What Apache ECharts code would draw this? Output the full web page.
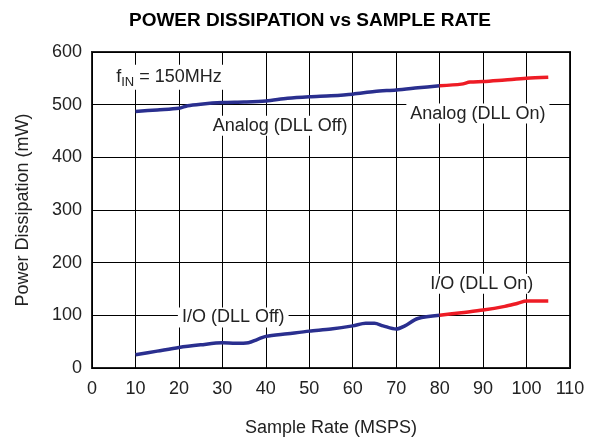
<!DOCTYPE html>
<html><head><meta charset="utf-8">
<script src="https://cdn.jsdelivr.net/npm/echarts@6/dist/echarts.min.js"></script>
<style>html,body{margin:0;padding:0;background:#fff}#c{width:595px;height:439px}</style>
</head><body><div id="c"></div>
<script>
const analogOffX = [10, 15, 20, 22, 25, 30, 35, 40, 45, 50, 55, 60, 65, 70, 75, 80];
const analogOffY = [487, 490, 493, 498, 501, 504, 505, 507, 512, 515, 517, 520, 525, 528, 532, 536];
const analogOnX = [80, 85, 87, 90, 95, 100, 105];
const analogOnY = [536, 539, 543, 544, 547, 550, 552];
const ioOffX = [10, 15, 20, 25, 30, 33, 36, 38, 40, 45, 50, 55, 60, 63, 65, 67, 70, 72, 75, 80];
const ioOffY = [25, 32, 39, 44, 48, 47, 48, 54, 60, 65, 70, 74, 80, 85, 85, 80, 74, 80, 94, 100];
const ioOnX = [80, 85, 90, 95, 98, 100, 105];
const ioOnY = [100, 105, 110, 117, 123, 127, 127];
const xTicks = [0, 10, 20, 30, 40, 50, 60, 70, 80, 90, 100, 110];
const yTicks = [0, 100, 200, 300, 400, 500, 600];

const BLUE = '#2a2f8f', RED = '#ee1c25';
const pairs = (xs, ys) => xs.map((x, i) => [x, ys[i]]);
const FONT = 'Liberation Sans, Arial, sans-serif';
const TXT = '#222';

function lbl(coord, text, rich) {
  return { coord: coord, symbol: 'circle', symbolSize: 1, itemStyle: { color: 'rgba(0,0,0,0)' },
    label: { show: true, position: 'inside', formatter: text, color: TXT, fontSize: 18, fontFamily: FONT,
      backgroundColor: '#fff', padding: [1, 4], rich: rich || {} } };
}
const mp = (data) => ({ silent: true, animation: false, data: data });

const chart = echarts.init(document.getElementById('c'));
chart.setOption({
  animation: false,
  backgroundColor: '#fff',
  title: { text: 'POWER DISSIPATION vs SAMPLE RATE', left: 305, textAlign: 'center', top: 6,
    textStyle: { fontFamily: FONT, fontSize: 19, fontWeight: 'bold', color: '#000' } },
  grid: { left: 92, right: 25, top: 52, bottom: 71, containLabel: false, outerBoundsMode: 'none',
    show: true, borderColor: '#222', borderWidth: 2, backgroundColor: 'transparent' },
  xAxis: { type: 'value', min: 0, max: 110, interval: 10,
    name: 'Sample Rate (MSPS)', nameLocation: 'middle', nameGap: 51,
    nameTextStyle: { fontFamily: FONT, fontSize: 18, color: TXT },
    axisLine: { show: false }, axisTick: { show: false },
    axisLabel: { fontFamily: FONT, fontSize: 18, color: TXT, margin: 12,
      formatter: v => xTicks.includes(v) ? String(v) : '' },
    splitLine: { show: true, lineStyle: { color: '#000', width: 1 } } },
  yAxis: { type: 'value', min: 0, max: 600, interval: 100,
    name: 'Power Dissipation (mW)', nameLocation: 'middle', nameGap: 60, nameRotate: 90,
    nameTextStyle: { fontFamily: FONT, fontSize: 18, color: TXT },
    axisLine: { show: false }, axisTick: { show: false },
    axisLabel: { fontFamily: FONT, fontSize: 18, color: TXT, margin: 10,
      formatter: v => yTicks.includes(v) ? String(v) : '' },
    splitLine: { show: true, lineStyle: { color: '#000', width: 1 } } },
  series: [
    { type: 'line', data: pairs(analogOffX, analogOffY), showSymbol: false, smooth: 0.3, z: 5,
      lineStyle: { color: BLUE, width: 3.5 },
      markPoint: mp([
        lbl([17.7, 552], '{a|f}{s|IN}{a| = 150MHz}', {
          a: { fontSize: 18, fontFamily: FONT, color: TXT },
          s: { fontSize: 13, fontFamily: FONT, color: TXT, padding: [10, 0, 0, 0] } }),
        lbl([43.3, 460], 'Analog (DLL Off)') ]) },
    { type: 'line', data: pairs(analogOnX, analogOnY), showSymbol: false, smooth: 0.3, z: 5,
      lineStyle: { color: RED, width: 3.5 },
      markPoint: mp([ lbl([88.8, 483], 'Analog (DLL On)') ]) },
    { type: 'line', data: pairs(ioOffX, ioOffY), showSymbol: false, smooth: 0.3, z: 5,
      lineStyle: { color: BLUE, width: 3.5 },
      markPoint: mp([ lbl([32.5, 96], 'I/O (DLL Off)') ]) },
    { type: 'line', data: pairs(ioOnX, ioOnY), showSymbol: false, smooth: 0.3, z: 5,
      lineStyle: { color: RED, width: 3.5 },
      markPoint: mp([ lbl([89.7, 160], 'I/O (DLL On)') ]) }
  ]
});
</script></body></html>
